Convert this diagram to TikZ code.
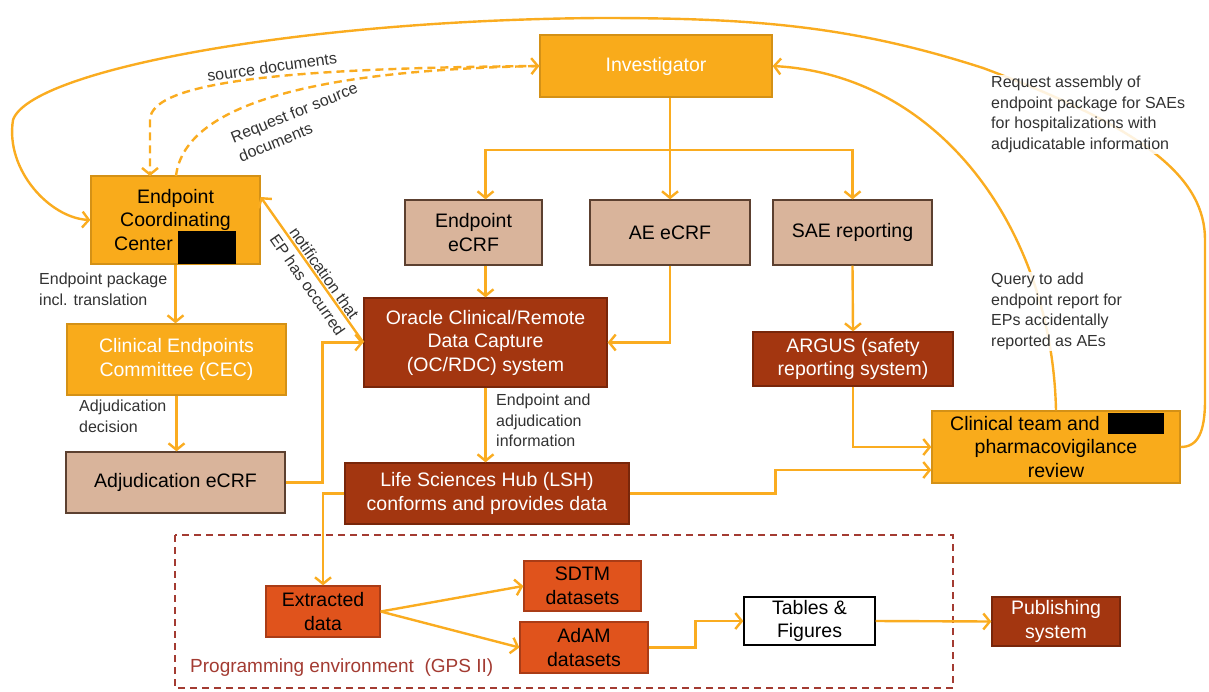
\documentclass[tikz,border=0pt]{standalone}
\usepackage{fontspec}
\setmainfont{Liberation Sans}
\usetikzlibrary{arrows.meta}
\definecolor{amber}{RGB}{249,171,27}
\definecolor{amberdk}{RGB}{212,145,22}
\definecolor{lineor}{RGB}{250,172,32}
\definecolor{tan}{RGB}{217,180,155}
\definecolor{tandk}{RGB}{92,64,48}
\definecolor{rust}{RGB}{163,54,16}
\definecolor{rustdk}{RGB}{120,38,10}
\definecolor{redor}{RGB}{224,83,28}
\definecolor{redordk}{RGB}{170,60,22}
\definecolor{envred}{RGB}{163,59,50}
\definecolor{lbl}{RGB}{50,50,50}
\tikzset{
  box/.style={draw, line width=1.3pt, align=center, inner sep=1pt,
    font=\fontsize{19.5}{23.5}\selectfont},
  ambox/.style={box, fill=amber, draw=amberdk},
  tanbox/.style={box, fill=tan, draw=tandk, text=black},
  rustbox/.style={box, fill=rust, draw=rustdk, text=white},
  redbox/.style={box, fill=redor, draw=redordk, text=black},
  conn/.style={draw=lineor, line width=2.4pt,
    -{Straight Barb[length=6.5pt,width=16pt]}},
  dashconn/.style={conn, dash pattern=on 8pt off 5pt},
  lab/.style={align=left, text=lbl, inner sep=1pt,
    font=\fontsize{16}{20.5}\selectfont},
}
\begin{document}
\begin{tikzpicture}[x=1pt,y=-1pt]
\useasboundingbox (0,0) rectangle (1209,691);

% programming environment
\draw[envred, line width=2pt, dash pattern=on 7pt off 5pt] (175,535) rectangle (953,688);
\node[anchor=west, text=envred, inner sep=0pt, font=\fontsize{19}{23}\selectfont] (penv) at (190,668) {Programming environment \ (GPS II)};

% nodes
\node[ambox, text=white, minimum width=232pt, minimum height=62pt] (inv) at (656,66) {Investigator};
\node[ambox, text=black, minimum width=169pt, minimum height=88pt] (ecc) at (175.5,220) {Endpoint\\Coordinating\\Center\rule{64pt}{0pt}};
\node[tanbox, minimum width=137pt, minimum height=65pt] (epcrf) at (473.5,232.5) {Endpoint\\eCRF};
\node[tanbox, minimum width=160pt, minimum height=65pt] (aecrf) at (670,232.5) {AE eCRF};
\node[tanbox, minimum width=159pt, minimum height=65pt] (sae) at (852.5,232.5) {SAE reporting};
\node[rustbox, minimum width=243pt, minimum height=89pt] (oc) at (485.5,342.5) {Oracle Clinical/Remote\\Data Capture\\(OC/RDC) system};
\node[rustbox, minimum width=200pt, minimum height=54pt] (argus) at (853,359) {ARGUS (safety\\reporting system)};
\node[ambox, text=white, minimum width=219pt, minimum height=71pt] (cec) at (176.5,359.5) {Clinical Endpoints\\Committee (CEC)};
\node[tanbox, minimum width=219pt, minimum height=61pt] (adj) at (175.5,482.5) {Adjudication eCRF};
\node[rustbox, minimum width=284pt, minimum height=61pt] (lsh) at (487,493.5) {Life Sciences Hub (LSH)\\conforms and provides data};
\node[ambox, text=black, minimum width=248pt, minimum height=72pt] (ct) at (1056,447) {Clinical team and\rule{62pt}{0pt}\\pharmacovigilance\\review};
\node[redbox, minimum width=114pt, minimum height=51pt] (ext) at (323,611.5) {Extracted\\data};
\node[redbox, minimum width=117pt, minimum height=50pt] (sdtm) at (582.5,586) {SDTM\\datasets};
\node[redbox, minimum width=128pt, minimum height=51pt] (adam) at (584,647.5) {AdAM\\datasets};
\node[box, fill=white, draw=black, text=black, minimum width=131pt, minimum height=48pt] (tf) at (809.5,621) {Tables \&\\Figures};
\node[rustbox, minimum width=128pt, minimum height=49pt] (pub) at (1056,621.5) {Publishing\\system};

% redactions
\fill[black] (178,231) rectangle (236,264);
\fill[black] (1108,413) rectangle (1164,434);

% investigator branches
\coordinate (br) at (670,150);
\draw[conn] (inv.south -| aecrf.north) -- (aecrf.north);
\draw[conn] (br) -| (oc.north |- epcrf.north);
\draw[conn] (br) -| (sae.north);

% straight connectors
\draw[conn] (oc.north |- epcrf.south) -- (oc.north);
\draw[conn] (aecrf.south) |- (oc.east);
\draw[conn] (sae.south) -- (argus.north);
\draw[conn] (argus.south) |- (ct.west);
\draw[conn] (lsh.east) -- ++(146,0) |- ([yshift=-23pt]ct.west);
\draw[conn] (oc.south) -- (oc.south |- lsh.north);
\draw[conn] (adj.east) -- ++(37,0) |- (oc.west);
\draw[conn] (oc.west) -- ([yshift=23pt]ecc.east);
\draw[conn] (ecc.south) -- (ecc.south |- cec.north);
\draw[conn] (cec.south) -- (cec.south |- adj.north);
\draw[conn] (lsh.west) -| (ext.north);
\draw[conn] (ext.east) -- (sdtm.west);
\draw[conn] (ext.east) -- (adam.west);
\draw[conn] (adam.east) -- ++(47,0) |- (tf.west);
\draw[conn] (tf.east) -- (pub.west);

% dashed curves
\draw[dashconn] (inv.west) .. controls (300,68) and (150,80) .. (150,120) -- (150,176);
\draw[dashconn] (176,176) .. controls (185,100) and (330,70) .. (inv.west);

% curve from clinical team to investigator
\draw[conn] (ct.north) .. controls (1052,230) and (940,75) .. (inv.east);

% big curve clinical team -> ECC
\draw[conn] (ct.east) .. controls (1198,447) and (1205,432) .. (1205,400) -- (1205,240)
  .. controls (1205,180) and (1150,130) .. (983,68)
  .. controls (850,25) and (750,18) .. (600,18)
  .. controls (300,20) and (30,70) .. (13,120)
  .. controls (5,170) and (50,218) .. (ecc.west);

% labels
\node[lab, rotate=8] (l1) at (272,67) {source documents};
\node[lab, rotate=22] (l2) at (298,122) {Request for source\\documents};
\node[lab, rotate=-55, align=center] (l3) at (316,279) {notification that\\EP has occurred};
\node[lab, anchor=north west] (l4) at (38,272) {Endpoint package\\incl. translation};
\node[lab, anchor=north west] (l5) at (78,399) {Adjudication\\decision};
\node[lab, anchor=north west] (l6) at (495,393) {Endpoint and\\adjudication\\information};
\node[lab, anchor=north west, fill=white, fill opacity=0.85, text opacity=1] (l7) at (990,272) {Query to add\\endpoint report for\\EPs accidentally\\reported as AEs};
\node[lab, anchor=north west, fill=white, fill opacity=0.85, text opacity=1] (l8) at (990,75) {Request assembly of\\endpoint package for SAEs\\for hospitalizations with\\adjudicatable information};
\end{tikzpicture}
\end{document}
